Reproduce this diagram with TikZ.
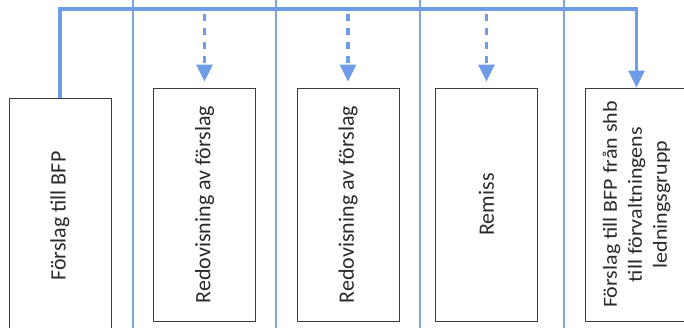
\documentclass[tikz,border=0pt]{standalone}
\usepackage{fontspec}
\setmainfont{Carlito}
\newfontfamily\widefont{Carlito}[FakeStretch=1.1]
\usetikzlibrary{arrows.meta}
\definecolor{flowblue}{HTML}{6F9CE8}
\definecolor{laneblue}{HTML}{7EA6E6}
\definecolor{boxgray}{HTML}{3C3C3C}
\definecolor{txtgray}{HTML}{2A2A2A}
\tikzset{
  stepbox/.style={draw=boxgray, line width=0.9pt, rotate=90, inner sep=2pt,
    minimum width=233pt, minimum height=102pt, align=center,
    text=txtgray, font=\fontsize{22}{26}\selectfont},
  lane/.style={draw=laneblue, line width=1.1pt},
  mainflow/.style={draw=flowblue, line width=3.2pt,
    -{Triangle[width=16pt,length=17pt]}},
  dashflow/.style={draw=flowblue, line width=3.2pt, dash pattern=on 7pt off 7pt,
    -{Triangle[width=16pt,length=17pt]}, shorten >=6pt}
}
\begin{document}
\begin{tikzpicture}[x=1pt,y=-1pt]
\useasboundingbox (0,0) rectangle (684,327);
% lane separators
\foreach \xx/\nm in {133/la,276/lb,420/lc,564/ld}{
  \coordinate (\nm t) at (\xx,-5);
  \coordinate (\nm b) at (\xx,332);
  \draw[lane] (\nm t) -- (\nm b);
}
% boxes
\node[stepbox, minimum width=236pt] (b1) at (60,216) {Förslag till BFP};
\node[stepbox] (b2) at (204.5,204.5) {Redovisning av förslag};
\node[stepbox] (b3) at (348,204.5) {Redovisning av förslag};
\node[stepbox] (b4) at (486.5,204.5) {Remiss};
\node[stepbox, font=\widefont\fontsize{20}{25}\selectfont] (b5) at (636.5,204.5) {Förslag till BFP från shb\\till förvaltningens\\ledningsgrupp};
% main flow
\coordinate (topy) at (0,9);
\coordinate (dashy) at (0,14);
\draw[mainflow] (b1.east) -- (b1.east |- topy) -- (b5.east |- topy) -- (b5.east);
% dashed arrows
\draw[dashflow] (b2.east |- dashy) -- (b2.east);
\draw[dashflow] (b3.east |- dashy) -- (b3.east);
\draw[dashflow] (b4.east |- dashy) -- (b4.east);
\end{tikzpicture}
\end{document}
